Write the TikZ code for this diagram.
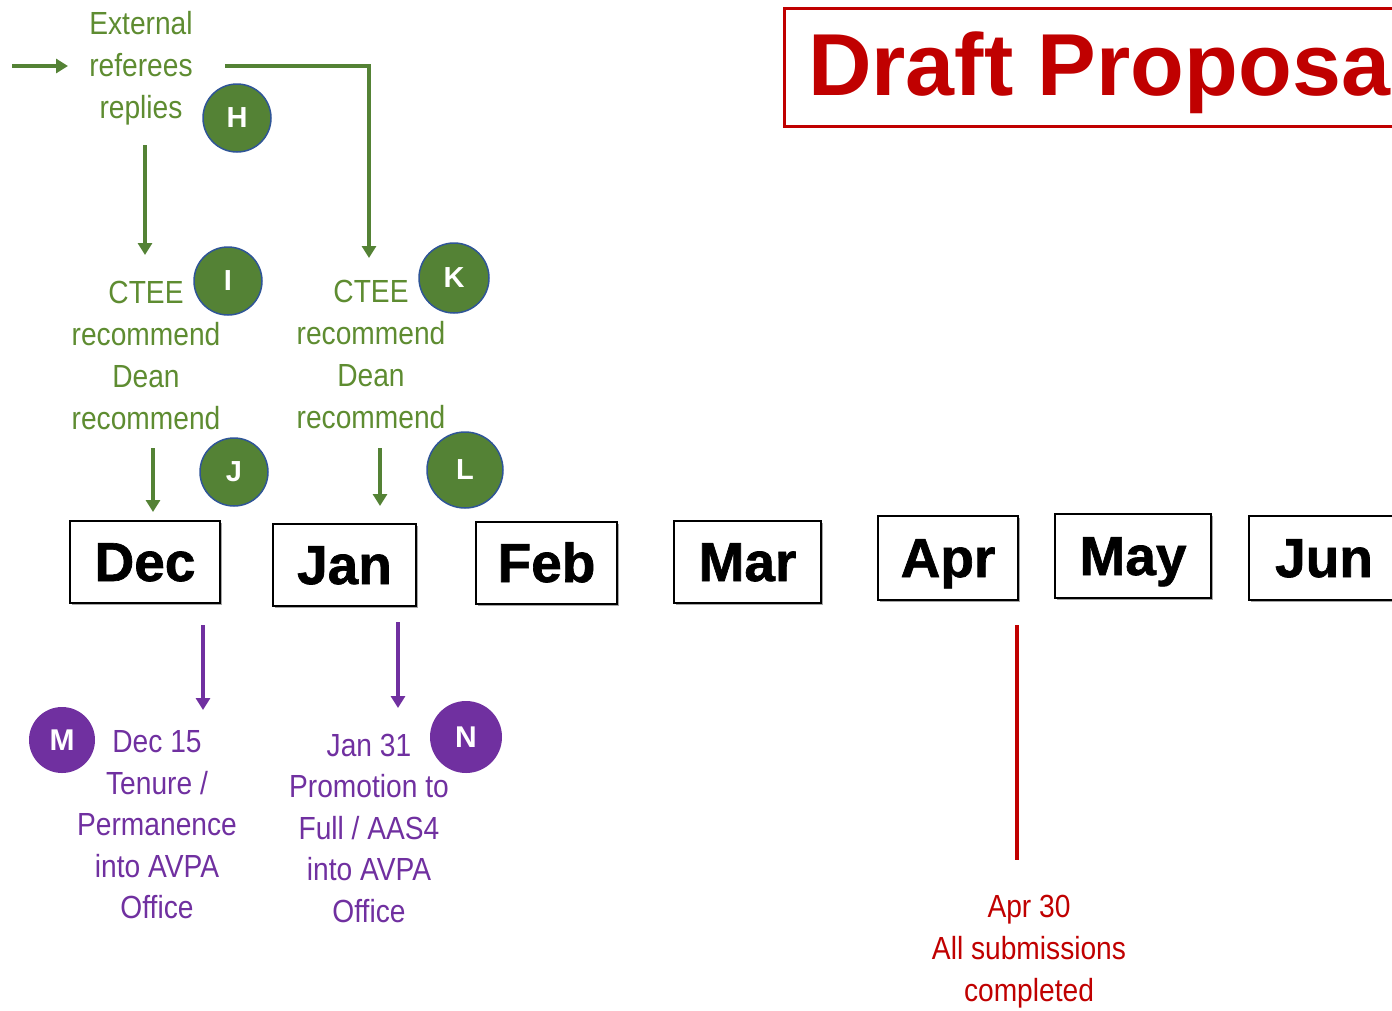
\documentclass[tikz,border=0pt]{standalone}
\usepackage{fontspec}
\setmainfont{Liberation Sans}
\newfontfamily\narrowf[FakeStretch=0.88]{Liberation Sans}
\newfontfamily\monthf[FakeBold=1.2]{Liberation Sans Bold}
\usetikzlibrary{arrows.meta,shadows}
\definecolor{tgreen}{HTML}{5E8C31}
\definecolor{cgreen}{HTML}{548235}
\definecolor{cborder}{HTML}{2F5597}
\definecolor{tpurple}{HTML}{7030A0}
\definecolor{tred}{HTML}{C00000}
\begin{document}
\begin{tikzpicture}[x=1pt,y=-1pt,
  gtext/.style={text=tgreen, font=\narrowf\fontsize{32}{42}\selectfont, align=center, inner sep=0pt},
  ptext/.style={text=tpurple, font=\narrowf\fontsize{32}{41.5}\selectfont, align=center, inner sep=0pt},
  rtext/.style={text=tred, font=\narrowf\fontsize{32}{42}\selectfont, align=center, inner sep=0pt},
  gcirc/.style={circle, fill=cgreen, draw=cborder, line width=1.5pt, minimum size=#1, inner sep=0pt, text=white, font=\bfseries\fontsize{29}{29}\selectfont},
  pcirc/.style={circle, fill=tpurple, minimum size=#1, inner sep=0pt, text=white, font=\bfseries\fontsize{30}{30}\selectfont},
  monthbox/.style={draw=black, line width=2pt, fill=white, inner sep=0pt, text height=38pt, text depth=0pt,
     font=\monthf\fontsize{55}{55}\selectfont,
     drop shadow={shadow xshift=1.5pt, shadow yshift=-2pt, fill=gray!70, opacity=1}},
  garrow/.style={draw=cgreen, line width=3.5pt, -{Triangle[width=14pt,length=12pt]}},
  parrow/.style={draw=tpurple, line width=3.5pt, -{Triangle[width=14pt,length=12pt]}},
  rline/.style={draw=tred, line width=3.5pt},
]
\useasboundingbox (0,0) rectangle (1392,1010);
\clip (0,0) rectangle (1392,1010);

% title
\draw[tred, line width=3pt] (784,8) rectangle (1440,126);
\node (title) [anchor=base west, text=tred, inner sep=0pt, font=\bfseries\fontsize{88}{88}\selectfont] at (808,95) {Draft Proposal};

% green text blocks
\node (ext) [gtext] at (141,68) {External\\referees\\replies};
\node (ctee1) [gtext] at (146,355) {CTEE\\recommend\\Dean\\recommend};
\node (ctee2) [gtext] at (371,354) {CTEE\\recommend\\Dean\\recommend};

% green circles
\node (H) [gcirc=68pt] at (237,118) {H};
\node (I) [gcirc=68pt] at (228,281) {I};
\node (K) [gcirc=70pt] at (454,278) {K};
\node (J) [gcirc=68pt] at (234,472) {J};
\node (L) [gcirc=76pt] at (465,470) {L};

% month boxes
\node (dec) [monthbox, minimum width=150pt, minimum height=82pt] at (145,562) {Dec};
\node (jan) [monthbox, minimum width=143pt, minimum height=82pt] at (344.5,565) {Jan};
\node (feb) [monthbox, minimum width=141pt, minimum height=82pt] at (546.5,563) {Feb};
\node (mar) [monthbox, minimum width=147pt, minimum height=82pt] at (747.5,562) {Mar};
\node (apr) [monthbox, minimum width=140pt, minimum height=84pt] at (948,558) {Apr};
\node (may) [monthbox, minimum width=156pt, minimum height=84pt] at (1133,556) {May};
\node (jun) [monthbox, minimum width=150pt, minimum height=84pt] at (1324,558) {Jun};

% purple
\node (dec15) [ptext] at (157,825) {Dec 15\\Tenure /\\Permanence\\into AVPA\\Office};
\node (jan31) [ptext] at (369,828) {Jan 31\\Promotion to\\Full / AAS4\\into AVPA\\Office};
\node (M) [pcirc=66pt] at (62,740) {M};
\node (N) [pcirc=72pt] at (466,737) {N};

% red
\node (apr30) [rtext] at (1029,952) {Apr 30\\All submissions\\completed};

% connector end points
\coordinate (inS) at (12,66);
\coordinate (inE) at (68,66);
\coordinate (extR) at (225,66);
\coordinate (extB) at (145,145);
\coordinate (ctee1T) at (145,255);
\coordinate (ctee2T) at (369,258);
\coordinate (ctee1B) at (153,448);
\coordinate (decT) at (153,512);
\coordinate (ctee2B) at (380,448);
\coordinate (janT) at (380,506);
\coordinate (decB) at (203,625);
\coordinate (dec15T) at (203,710);
\coordinate (janB) at (398,622);
\coordinate (jan31T) at (398,708);
\coordinate (aprB) at (1017,625);
\coordinate (apr30T) at (1017,860);

% connectors
\draw[garrow] (inS) -- (inE);
\draw[garrow] (extR) -| (ctee2T);
\draw[garrow] (extB) -- (ctee1T);
\draw[garrow] (ctee1B) -- (decT);
\draw[garrow] (ctee2B) -- (janT);
\draw[parrow] (decB) -- (dec15T);
\draw[parrow] (janB) -- (jan31T);
\draw[rline] (aprB) -- (apr30T);
\end{tikzpicture}
\end{document}
